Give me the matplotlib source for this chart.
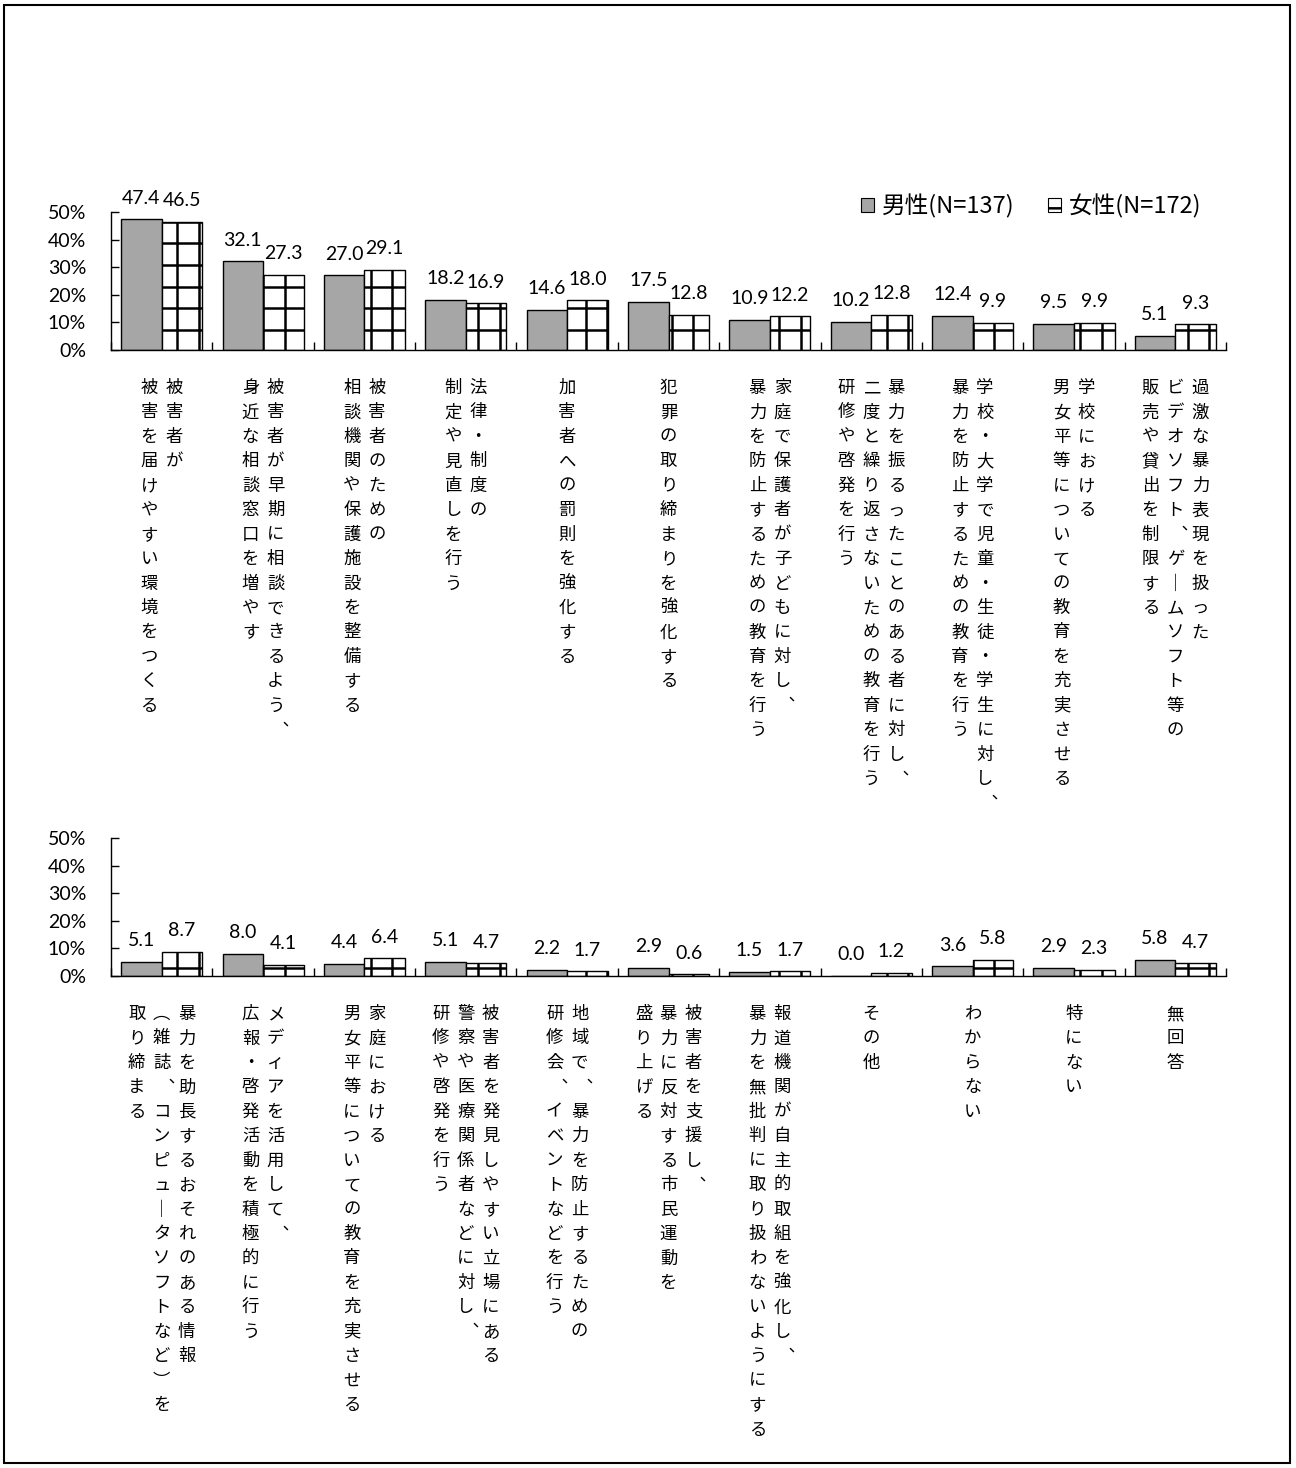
import numpy as np
import matplotlib.pyplot as plt
from matplotlib.patches import Patch, Rectangle

plt.rcParams['font.family'] = ['Lato', 'Noto Sans CJK JP', 'DejaVu Sans']
plt.rcParams['hatch.linewidth'] = 1.8

# データ（上段）
labels_top = [
    '被害者が/被害を届けやすい環境をつくる',
    '被害者が早期に相談できるよう、/身近な相談窓口を増やす',
    '被害者のための/相談機関や保護施設を整備する',
    '法律・制度の/制定や見直しを行う',
    '加害者への罰則を強化する',
    '犯罪の取り締まりを強化する',
    '家庭で保護者が子どもに対し、/暴力を防止するための教育を行う',
    '暴力を振るったことのある者に対し、/二度と繰り返さないための教育を行う/研修や啓発を行う',
    '学校・大学で児童・生徒・学生に対し、/暴力を防止するための教育を行う',
    '学校における/男女平等についての教育を充実させる',
    '過激な暴力表現を扱った/ビデオソフト、ゲームソフト等の/販売や貸出を制限する',
]
male_top = [47.4, 32.1, 27.0, 18.2, 14.6, 17.5, 10.9, 10.2, 12.4, 9.5, 5.1]
female_top = [46.5, 27.3, 29.1, 16.9, 18.0, 12.8, 12.2, 12.8, 9.9, 9.9, 9.3]

# データ（下段）
labels_bot = [
    '暴力を助長するおそれのある情報/（雑誌、コンピュータソフトなど）を/取り締まる',
    'メディアを活用して、/広報・啓発活動を積極的に行う',
    '家庭における/男女平等についての教育を充実させる',
    '被害者を発見しやすい立場にある/警察や医療関係者などに対し、/研修や啓発を行う',
    '地域で、暴力を防止するための/研修会、イベントなどを行う',
    '被害者を支援し、/暴力に反対する市民運動を/盛り上げる',
    '報道機関が自主的取組を強化し、/暴力を無批判に取り扱わないようにする',
    'その他',
    'わからない',
    '特にない',
    '無回答',
]
male_bot = [5.1, 8.0, 4.4, 5.1, 2.2, 2.9, 1.5, 0.0, 3.6, 2.9, 5.8]
female_bot = [8.7, 4.1, 6.4, 4.7, 1.7, 0.6, 1.7, 1.2, 5.8, 2.3, 4.7]

yticks = [0, 10, 20, 30, 40, 50]
legend_labels = ['男性(N=137)', '女性(N=172)']

GREY = '#A6A6A6'
CJK = ['Noto Sans CJK JP', 'DejaVu Sans']
vert = {'ー': '｜', '（': '︵', '）': '︶', '、': '︑'}


def draw(ax, labels, m, f, grid_y0):
    n = len(labels)
    x = np.arange(n)
    w = 0.4
    ax.bar(x - w / 2, m, w, color=GREY, edgecolor='black', lw=1, zorder=2)
    fb = ax.bar(x + w / 2, f, w, color='white', edgecolor='black', lw=1, zorder=2)
    # 格子模様（粗め）
    for p in fb:
        hl = ax.hlines(np.arange(grid_y0, 50, 7.85), -0.5, n - 0.5,
                       colors='black', lw=1.8, zorder=2.5)
        hl.set_clip_path(p)
        vl = ax.vlines(np.arange(0.156, n, 0.2121), 0, 50,
                       colors='black', lw=1.8, zorder=2.5)
        vl.set_clip_path(p)

    for xi, v in zip(x - w / 2, m):
        ax.annotate(f'{v:.1f}', (xi, v), xytext=(0, 9), textcoords='offset points',
                    ha='center', va='bottom', fontsize=14)
    for xi, v in zip(x + w / 2, f):
        ax.annotate(f'{v:.1f}', (xi, v), xytext=(0, 9), textcoords='offset points',
                    ha='center', va='bottom', fontsize=14)

    ax.set_xlim(-0.5, n - 0.5)
    ax.set_ylim(0, 50)
    ax.set_yticks(yticks)
    ax.set_yticklabels([f'{t}%' for t in yticks], fontsize=14)
    ax.set_xticks(np.arange(-0.5, n))
    ax.set_xticklabels([])
    ax.tick_params(axis='y', direction='in', length=6, width=1, pad=18)
    ax.tick_params(axis='x', direction='in', length=6, width=1)
    for s in ['top', 'right']:
        ax.spines[s].set_visible(False)
    for s in ['left', 'bottom']:
        ax.spines[s].set_linewidth(1)
        ax.spines[s].set_zorder(3)

    # 縦書きラベル（右の列から）
    for i, lab in enumerate(labels):
        cols = lab.split('/')
        nc = len(cols)
        for j, line in enumerate(cols):
            dx = ((nc - 1) / 2 - j) * 18
            for k, ch in enumerate(line):
                ox = dx + (3 if ch == '、' else 0)
                ax.annotate(vert.get(ch, ch), (i, 0), xycoords=('data', 'axes fraction'),
                            xytext=(ox, -31 - k * 17.6), textcoords='offset points',
                            ha='center', va='baseline', fontsize=12.5, family=CJK)


fig = plt.figure(figsize=(12.96, 14.68), dpi=100)
ax1 = fig.add_axes([111 / 1296, 1 - 350 / 1468, 1115 / 1296, 138 / 1468])
ax2 = fig.add_axes([111 / 1296, 1 - 976 / 1468, 1115 / 1296, 138 / 1468])

draw(ax1, labels_top, male_top, female_top, 7.2)
draw(ax2, labels_bot, male_bot, female_bot, 3.0)

h1 = Patch(facecolor=GREY, edgecolor='black', lw=0.8)
h2 = Patch(facecolor='white', edgecolor='black', hatch='-', lw=0.8)
ax1.legend([h1, h2], legend_labels, loc='center right', bbox_to_anchor=(0.978, 1.04),
           ncol=2, frameon=False, prop={'family': CJK, 'size': 17},
           handlelength=0.55, handleheight=0.55, handletextpad=0.35,
           columnspacing=1.4, borderpad=0, borderaxespad=0)

fig.add_artist(Rectangle((4 / 1296, 5 / 1468), 1286 / 1296, 1458 / 1468,
                         transform=fig.transFigure, fill=False, lw=1.5, ec='black'))

plt.savefig('out.png', dpi=100)
